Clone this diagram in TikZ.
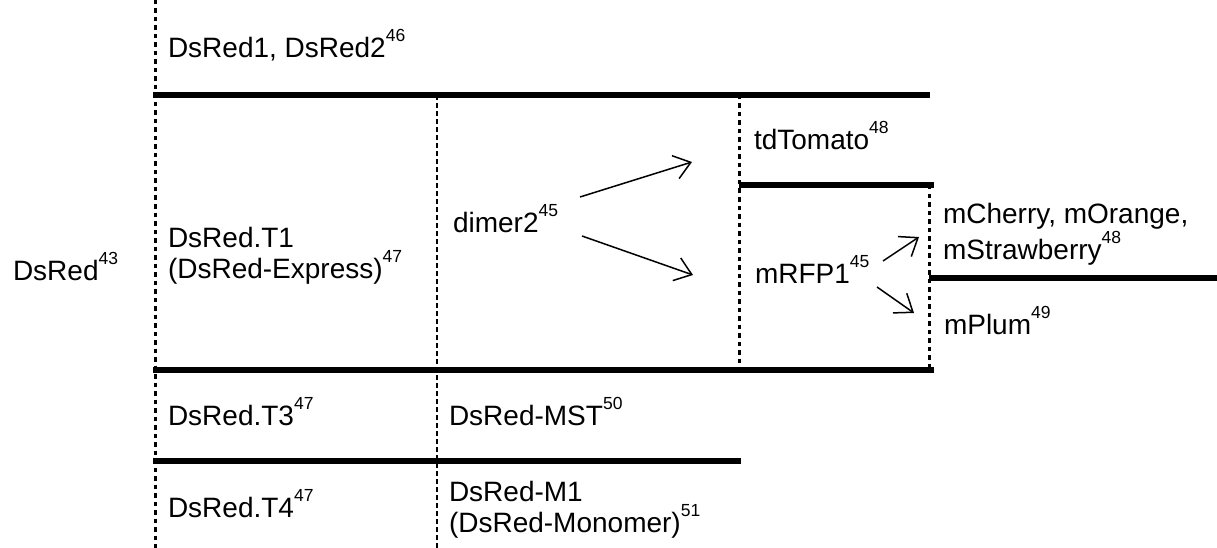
\documentclass[tikz,border=0pt]{standalone}
\usepackage{fontspec}
\setmainfont{Liberation Sans}
\usetikzlibrary{arrows.meta}
\newcommand\supx[1]{\raisebox{16pt}{\fontsize{17.5}{17.5}\selectfont #1}}
\begin{document}
\begin{tikzpicture}[x=1pt,y=-1pt,
  lbl/.style={anchor=base west,inner sep=0pt,outer sep=0pt,align=left,
    font=\fontsize{28}{31}\selectfont},
  thickrule/.style={line width=5.5pt},
  dotrule/.style={line width=3pt,dash pattern=on 4.5pt off 4pt},
  dashrule/.style={line width=1.3pt,dash pattern=on 5pt off 3pt},
  arr/.style={line width=1.5pt,-{Straight Barb[length=16pt,width=24pt,line width=1.5pt]}}]
\useasboundingbox (0,0) rectangle (1217,548);
% rules
\draw[dotrule] (155,0) -- (155,548);
\draw[dashrule] (437,95) -- (437,548);
\draw[dotrule] (739,95) -- (739,370);
\draw[dotrule] (929,185) -- (929,370);
\draw[thickrule] (153,95) -- (930,95);
\draw[thickrule] (739,185) -- (934,185);
\draw[thickrule] (929,278) -- (1217,278);
\draw[thickrule] (153,370) -- (934,370);
\draw[thickrule] (153,461) -- (741,461);
% labels (multi-line labels are placed by their last line's baseline)
\node[lbl] (dsred) at (13,280) {DsRed\supx{43}};
\node[lbl] (dsred12) at (168,58) {DsRed1, DsRed2\supx{46}};
\node[lbl] (t1) at (168,278) {DsRed.T1\\(DsRed-Express)\supx{47}};
\node[lbl] (dimer) at (453,232) {dimer2\supx{45}};
\node[lbl] (tdt) at (754,150) {tdTomato\supx{48}};
\node[lbl] (mrfp) at (755,283) {mRFP1\supx{45}};
\node[lbl] (mch) at (943,259) {mCherry, mOrange,\\mStrawberry\supx{48}};
\node[lbl] (mplum) at (944,334) {mPlum\supx{49}};
\node[lbl] (t3) at (168,425) {DsRed.T3\supx{47}};
\node[lbl] (mst) at (449,425) {DsRed-MST\supx{50}};
\node[lbl] (t4) at (168,517) {DsRed.T4\supx{47}};
\node[lbl] (m1) at (449,532) {DsRed-M1\\(DsRed-Monomer)\supx{51}};
% arrow ends
\coordinate (a1s) at (580,197);
\coordinate (a1e) at (692,162);
\coordinate (a2s) at (582,236);
\coordinate (a2e) at (693,275);
\coordinate (a3s) at (883,261);
\coordinate (a3e) at (919,237);
\coordinate (a4s) at (877,287);
\coordinate (a4e) at (914,313);
\draw[arr] (a1s) -- (a1e);
\draw[arr] (a2s) -- (a2e);
\draw[arr] (a3s) -- (a3e);
\draw[arr] (a4s) -- (a4e);
\end{tikzpicture}
\end{document}
